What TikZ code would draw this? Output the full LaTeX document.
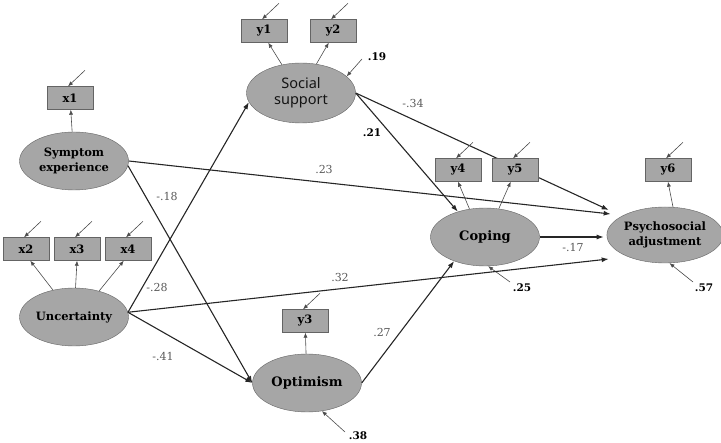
\documentclass[tikz,border=0pt]{standalone}
\usepackage{fontspec}
\setmainfont{DejaVu Serif}
\newfontfamily\socfont{Noto Sans}
\usetikzlibrary{shapes.geometric,arrows.meta,backgrounds}
\definecolor{semgray}{RGB}{166,166,166}
\definecolor{semedge}{RGB}{100,100,100}
\tikzset{latent/.style={ellipse, draw=semedge, fill=semgray, minimum width=109pt, minimum height=58pt, inner sep=0pt, align=center, font=\fontsize{11.5}{14.5}\selectfont\bfseries},
  biglatent/.style={latent, font=\fontsize{13}{16}\selectfont\bfseries},
  indic/.style={rectangle, draw=semedge, fill=semgray, minimum width=46pt, minimum height=23pt, inner sep=0pt, font=\fontsize{11.5}{13}\selectfont\bfseries},
  effect/.style={draw=black!85, line width=1.1pt, -{Latex[length=7pt,width=5pt]}},
  load/.style={draw=black!70, line width=0.6pt, -{Latex[length=5pt,width=4pt]}},
  coef/.style={font=\fontsize{11}{13}\selectfont, text=black!65, inner sep=1pt},
  resid/.style={font=\fontsize{10.5}{12}\selectfont\bfseries, inner sep=1pt}}

\begin{document}
\begin{tikzpicture}[x=1pt,y=-1pt]
  \useasboundingbox (0,0) rectangle (721,443);
  % latent variables
  \node[latent] (symp) at (74,161) {Symptom\\experience};
  \node[latent] (unc)  at (74,317) {Uncertainty};
  \node[latent, minimum height=60pt, font=\socfont\fontsize{14.5}{16}\selectfont, text=black!92] (soc) at (301,93) {Social\\support};
  \node[biglatent] (cop)  at (485,237) {Coping};
  \node[biglatent] (opt)  at (307,383) {Optimism};
  \node[latent, minimum height=56pt] (psy) at (665,235) {Psychosocial\\adjustment};
  % indicators
  \node[indic] (x1) at (70,98)  {x1};
  \node[indic] (x2) at (26,249) {x2};
  \node[indic] (x3) at (77,249) {x3};
  \node[indic] (x4) at (128,249) {x4};
  \node[indic] (y1) at (264,31) {y1};
  \node[indic] (y2) at (333,31) {y2};
  \node[indic] (y3) at (305,321) {y3};
  \node[indic] (y4) at (458,170) {y4};
  \node[indic] (y5) at (515,170) {y5};
  \node[indic] (y6) at (668,170) {y6};

  % loadings and measurement errors
  \draw[load] (symp) -- (x1);
  \draw[load] (unc.128) -- (x2.290);
  \draw[load] (unc.87) -- (x3.south);
  \draw[load] (unc.46) -- (x4.250);
  \draw[load] (soc.124) -- (y1.290);
  \draw[load] (soc.62) -- (y2.250);
  \draw[load] (opt) -- (y3);
  \draw[load] (cop.119) -- (y4.south);
  \draw[load] (cop.64) -- (y5.250);
  \draw[load] (psy.74) -- (y6.south);
  \foreach \ind in {x1,x2,x3,x4,y1,y2,y3,y4,y5,y6}
    \draw[load] ([shift={(15,-16)}]\ind.north) -- ([xshift=-2pt]\ind.north);

  % disturbances
  \coordinate (e19) at (362,59);
  \coordinate (e25) at (510,282);
  \coordinate (e38) at (345,432);
  \coordinate (e57) at (693,282);
  \draw[load] (e19) -- (soc.20);
  \draw[load] (e25) -- (cop.276);
  \draw[load] (e38) -- (opt.298);
  \draw[load] (e57) -- (psy.279);
  \node[resid] (r19) at (377,57)  {.19};
  \node[resid] (r25) at (522,288) {.25};
  \node[resid] (r38) at (358,436) {.38};
  \node[resid] (r57) at (704,288) {.57};

  % structural paths
  \begin{pgfonlayer}{background}
    \draw[effect] (soc.east) -- ([shift={(2,-25)}]psy.west);
  \end{pgfonlayer}
  \draw[effect] (symp.east) -- ([shift={(4,-21)}]psy.west);
  \draw[effect] (symp.355) -- (opt.west);
  \draw[effect] (unc.5) -- (soc.190);
  \draw[effect] (unc.5) -- ([shift={(2,24)}]psy.west);
  \draw[effect] (unc.5) -- (opt.west);
  \draw[effect] (soc.east) -- (cop.137);
  \draw[effect] (opt.east) -- (cop.218);
  \draw[effect] (cop.east) -- ([shift={(-3,2)}]psy.west);

  \node[coef] (c23) at (324,169) {.23};
  \node[coef] (c18) at (167,196) {-.18};
  \node[coef] (c28) at (157,287) {-.28};
  \node[coef] (c41) at (163,356) {-.41};
  \node[resid] (c21) at (372,133) {.21};
  \node[coef] (c34) at (413,103) {-.34};
  \node[coef] (c32) at (340,277) {.32};
  \node[coef] (c27) at (382,332) {.27};
  \node[coef] (c17) at (573,247) {-.17};
\end{tikzpicture}
\end{document}
